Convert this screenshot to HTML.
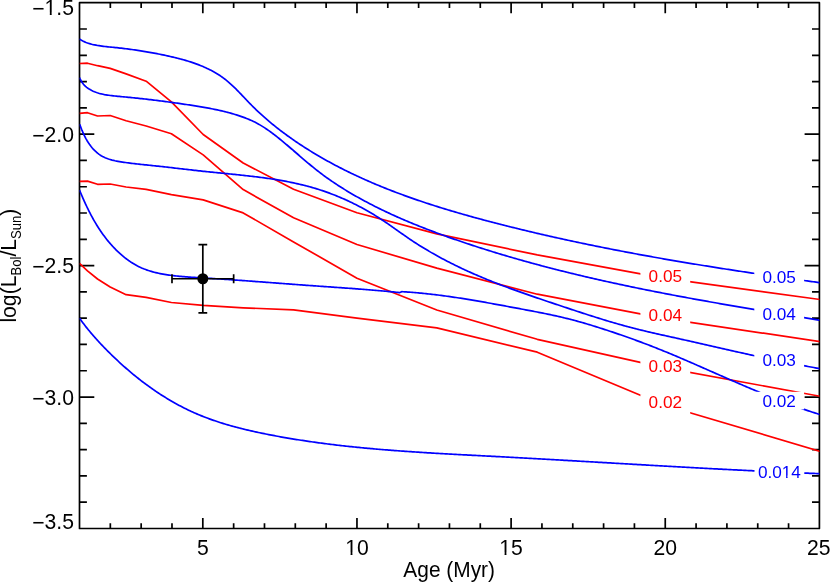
<!DOCTYPE html>
<html><head><meta charset="utf-8"><title>plot</title><style>html,body{margin:0;padding:0;background:#fff}svg{display:block;will-change:transform}text{font-family:"Liberation Sans",sans-serif}</style></head><body>
<svg width="830" height="582" viewBox="0 0 830 582">
<rect width="830" height="582" fill="#fff"/>
<defs><clipPath id="c"><rect x="79.50" y="2.70" width="739.90" height="525.80"/></clipPath></defs>
<path d="M110.33 528.50v-5.20M110.33 2.70v5.20M141.16 528.50v-5.20M141.16 2.70v5.20M171.99 528.50v-5.20M171.99 2.70v5.20M202.82 528.50v-10.50M202.82 2.70v10.50M233.65 528.50v-5.20M233.65 2.70v5.20M264.48 528.50v-5.20M264.48 2.70v5.20M295.30 528.50v-5.20M295.30 2.70v5.20M326.13 528.50v-5.20M326.13 2.70v5.20M356.96 528.50v-10.50M356.96 2.70v10.50M387.79 528.50v-5.20M387.79 2.70v5.20M418.62 528.50v-5.20M418.62 2.70v5.20M449.45 528.50v-5.20M449.45 2.70v5.20M480.28 528.50v-5.20M480.28 2.70v5.20M511.11 528.50v-10.50M511.11 2.70v10.50M541.94 528.50v-5.20M541.94 2.70v5.20M572.77 528.50v-5.20M572.77 2.70v5.20M603.60 528.50v-5.20M603.60 2.70v5.20M634.42 528.50v-5.20M634.42 2.70v5.20M665.25 528.50v-10.50M665.25 2.70v10.50M696.08 528.50v-5.20M696.08 2.70v5.20M726.91 528.50v-5.20M726.91 2.70v5.20M757.74 528.50v-5.20M757.74 2.70v5.20M788.57 528.50v-5.20M788.57 2.70v5.20M79.50 28.99h7.40M819.40 28.99h-7.40M79.50 55.28h7.40M819.40 55.28h-7.40M79.50 81.57h7.40M819.40 81.57h-7.40M79.50 107.86h7.40M819.40 107.86h-7.40M79.50 134.15h14.80M819.40 134.15h-14.80M79.50 160.44h7.40M819.40 160.44h-7.40M79.50 186.73h7.40M819.40 186.73h-7.40M79.50 213.02h7.40M819.40 213.02h-7.40M79.50 239.31h7.40M819.40 239.31h-7.40M79.50 265.60h14.80M819.40 265.60h-14.80M79.50 291.89h7.40M819.40 291.89h-7.40M79.50 318.18h7.40M819.40 318.18h-7.40M79.50 344.47h7.40M819.40 344.47h-7.40M79.50 370.76h7.40M819.40 370.76h-7.40M79.50 397.05h14.80M819.40 397.05h-14.80M79.50 423.34h7.40M819.40 423.34h-7.40M79.50 449.63h7.40M819.40 449.63h-7.40M79.50 475.92h7.40M819.40 475.92h-7.40M79.50 502.21h7.40M819.40 502.21h-7.40" stroke="#000" stroke-width="1.70" fill="none"/>
<rect x="79.50" y="2.70" width="739.90" height="525.80" fill="none" stroke="#000" stroke-width="1.70" stroke-linejoin="round"/>
<g clip-path="url(#c)" fill="none" stroke="#ff0000" stroke-width="1.70" stroke-linejoin="round">
<polyline points="79.50,63.50 87.48,63.20 97.53,65.70 110.18,68.40 126.11,73.90 146.16,81.20 171.40,101.90 203.18,134.50 243.19,163.00 293.56,189.30 356.96,212.80 436.79,233.90 537.28,254.90 663.79,278.20 823.06,299.90"/>
<polyline points="79.50,113.40 87.48,112.70 97.53,116.00 110.18,115.50 126.11,120.70 146.16,126.00 171.40,133.70 203.18,154.90 243.19,189.60 293.56,217.80 356.96,244.50 436.79,268.10 537.28,294.20 663.79,318.30 823.06,342.10"/>
<polyline points="79.50,181.40 87.48,181.10 97.53,184.30 110.18,184.00 126.11,187.00 146.16,189.30 171.40,194.60 203.18,199.90 243.19,212.90 293.56,241.90 356.96,278.20 436.79,310.00 537.28,339.30 663.79,367.70 823.06,396.80"/>
<polyline points="79.50,263.40 87.48,270.80 97.53,279.00 110.18,287.00 126.11,294.70 146.16,297.30 171.40,302.50 203.18,305.40 243.19,307.80 293.56,309.80 356.96,318.20 436.79,327.90 537.28,352.20 663.79,405.00 823.06,452.20"/>
</g>
<rect x="640.40" y="267.40" width="49.80" height="22.00" fill="#fff"/><text transform="translate(665.30 281.82) scale(1 1)" font-size="17.20" fill="#ff0000" text-anchor="middle">0.05</text>
<rect x="640.40" y="307.50" width="49.80" height="22.00" fill="#fff"/><text transform="translate(665.30 321.42) scale(1 1)" font-size="17.20" fill="#ff0000" text-anchor="middle">0.04</text>
<rect x="640.40" y="356.90" width="49.80" height="22.00" fill="#fff"/><text transform="translate(665.30 371.62) scale(1 1)" font-size="17.20" fill="#ff0000" text-anchor="middle">0.03</text>
<rect x="640.40" y="394.20" width="49.80" height="22.00" fill="#fff"/><text transform="translate(665.30 408.22) scale(1 1)" font-size="17.20" fill="#ff0000" text-anchor="middle">0.02</text>
<g clip-path="url(#c)" fill="none" stroke="#0000ff" stroke-width="1.70" stroke-linejoin="round">
<path d="M79.30 38.94L80.63 39.79L81.97 40.57L83.32 41.26L84.69 41.89L86.07 42.46L87.47 42.97L88.87 43.43L90.29 43.85L91.72 44.24L93.15 44.59L94.60 44.91L96.06 45.20L97.52 45.47L98.99 45.71L100.46 45.94L101.94 46.14L103.43 46.33L104.92 46.51L106.41 46.67L107.91 46.83L109.41 46.98L110.91 47.13L112.41 47.27L113.91 47.42L115.41 47.57L116.90 47.72L118.40 47.88L119.90 48.05L121.39 48.21L122.89 48.39L124.38 48.56L125.87 48.75L127.36 48.93L128.85 49.13L130.34 49.32L131.83 49.52L133.32 49.73L134.80 49.94L136.29 50.16L137.77 50.38L139.26 50.60L140.74 50.83L142.22 51.07L143.70 51.31L145.18 51.55L146.66 51.80L148.14 52.05L149.62 52.31L151.09 52.58L152.57 52.85L154.05 53.12L155.52 53.40L157.00 53.69L158.47 53.97L159.94 54.27L161.41 54.57L162.89 54.87L164.36 55.18L165.83 55.50L167.30 55.82L168.77 56.14L170.23 56.47L171.70 56.81L173.17 57.15L174.63 57.50L176.09 57.86L177.55 58.22L179.00 58.60L180.46 58.98L181.90 59.37L183.35 59.77L184.79 60.18L186.23 60.60L187.66 61.03L189.09 61.47L190.51 61.93L191.93 62.39L193.34 62.87L194.74 63.36L196.14 63.86L197.53 64.38L198.92 64.91L200.29 65.45L201.67 66.01L203.03 66.58L204.38 67.17L205.73 67.78L207.06 68.40L208.39 69.03L209.71 69.69L211.02 70.36L212.32 71.05L213.61 71.76L214.89 72.48L216.16 73.23L217.41 73.99L218.66 74.78L219.89 75.58L221.11 76.41L222.32 77.25L223.52 78.12L224.70 79.01L225.88 79.92L227.03 80.85L228.18 81.81L229.31 82.78L230.43 83.78L231.55 84.79L232.65 85.81L233.74 86.85L234.83 87.91L235.91 88.97L236.99 90.05L238.05 91.14L239.12 92.23L240.18 93.33L241.24 94.44L242.29 95.55L243.35 96.66L244.40 97.77L245.46 98.89L246.51 100.00L247.57 101.11L248.63 102.22L249.70 103.32L250.77 104.41L251.84 105.50L252.92 106.58L254.00 107.65L255.09 108.71L256.19 109.77L257.29 110.82L258.39 111.86L259.50 112.89L260.62 113.92L261.74 114.94L262.86 115.95L263.99 116.96L265.12 117.95L266.26 118.95L267.40 119.93L268.55 120.91L269.70 121.88L270.85 122.84L272.01 123.80L273.18 124.75L274.34 125.70L275.52 126.64L276.69 127.57L277.87 128.50L279.05 129.42L280.24 130.33L281.43 131.24L282.63 132.14L283.83 133.04L285.03 133.93L286.23 134.81L287.44 135.69L288.66 136.56L289.87 137.43L291.09 138.29L292.32 139.15L293.54 140.00L294.77 140.85L296.00 141.69L297.24 142.53L298.48 143.36L299.72 144.18L300.96 145.00L302.21 145.82L303.46 146.63L304.71 147.44L305.97 148.24L307.23 149.03L308.49 149.83L309.75 150.61L311.02 151.40L312.29 152.17L313.56 152.95L314.84 153.71L316.12 154.48L317.40 155.24L318.68 155.99L319.97 156.74L321.26 157.48L322.55 158.22L323.84 158.96L325.14 159.69L326.44 160.42L327.74 161.14L329.04 161.86L330.35 162.57L331.66 163.28L332.97 163.99L334.28 164.69L335.60 165.39L336.91 166.08L338.24 166.77L339.56 167.45L340.88 168.13L342.21 168.81L343.54 169.48L344.87 170.15L346.21 170.81L347.54 171.47L348.88 172.12L350.22 172.78L351.57 173.42L352.91 174.07L354.26 174.71L355.61 175.34L356.96 175.97L358.31 176.60L359.67 177.23L361.03 177.85L362.39 178.46L363.75 179.08L365.11 179.68L366.48 180.29L367.84 180.89L369.21 181.49L370.59 182.08L371.96 182.68L373.33 183.26L374.71 183.85L376.09 184.43L377.47 185.00L378.85 185.58L380.23 186.15L381.62 186.71L383.01 187.28L384.40 187.84L385.79 188.39L387.18 188.95L388.57 189.50L389.97 190.04L391.36 190.59L392.76 191.13L394.16 191.66L395.56 192.20L396.97 192.73L398.37 193.26L399.78 193.78L401.19 194.30L402.59 194.82L404.01 195.34L405.42 195.85L406.83 196.36L408.24 196.87L409.66 197.37L411.08 197.87L412.50 198.37L413.91 198.87L415.34 199.36L416.76 199.85L418.18 200.33L419.60 200.82L421.03 201.30L422.46 201.78L423.89 202.26L425.31 202.73L426.74 203.20L428.18 203.67L429.61 204.14L431.04 204.60L432.47 205.06L433.91 205.52L435.35 205.97L436.78 206.43L438.22 206.88L439.66 207.33L441.10 207.77L442.54 208.22L443.98 208.66L445.42 209.10L446.87 209.54L448.31 209.97L449.76 210.41L451.20 210.84L452.65 211.27L454.09 211.69L455.54 212.12L456.99 212.54L458.44 212.96L459.89 213.38L461.34 213.80L462.79 214.21L464.24 214.62L465.69 215.03L467.14 215.44L468.60 215.85L470.05 216.26L471.50 216.66L472.96 217.06L474.41 217.46L475.87 217.86L477.32 218.26L478.78 218.65L480.24 219.04L481.69 219.43L483.15 219.82L484.61 220.21L486.06 220.60L487.52 220.98L488.98 221.37L490.44 221.75L491.90 222.13L493.35 222.51L494.81 222.89L496.27 223.27L497.73 223.64L499.19 224.02L500.65 224.39L502.11 224.76L503.57 225.13L505.03 225.50L506.49 225.87L507.95 226.23L509.41 226.60L510.87 226.96L512.33 227.32L513.79 227.69L515.24 228.04L516.71 228.40L518.17 228.76L519.63 229.12L521.09 229.47L522.55 229.83L524.01 230.18L525.47 230.53L526.93 230.88L528.39 231.23L529.85 231.58L531.31 231.92L532.77 232.27L534.23 232.61L535.69 232.96L537.16 233.30L538.62 233.64L540.08 233.98L541.54 234.32L543.00 234.65L544.47 234.99L545.93 235.32L547.39 235.66L548.85 235.99L550.31 236.32L551.78 236.65L553.24 236.98L554.70 237.31L556.17 237.63L557.63 237.96L559.09 238.28L560.55 238.61L562.02 238.93L563.48 239.25L564.95 239.57L566.41 239.89L567.87 240.21L569.34 240.53L570.80 240.84L572.27 241.16L573.73 241.47L575.19 241.78L576.66 242.09L578.12 242.40L579.59 242.71L581.05 243.02L582.52 243.33L583.98 243.64L585.45 243.94L586.91 244.25L588.38 244.55L589.85 244.85L591.31 245.15L592.78 245.45L594.24 245.75L595.71 246.05L597.18 246.35L598.64 246.64L600.11 246.94L601.58 247.23L603.04 247.53L604.51 247.82L605.98 248.11L607.44 248.40L608.91 248.69L610.38 248.98L611.85 249.27L613.32 249.56L614.78 249.84L616.25 250.13L617.72 250.41L619.19 250.69L620.66 250.98L622.13 251.26L623.60 251.54L625.06 251.82L626.53 252.10L628.00 252.37L629.47 252.65L630.94 252.93L632.41 253.20L633.88 253.48L635.35 253.75L636.82 254.02L638.29 254.29L639.76 254.57L641.23 254.84L642.71 255.10L644.18 255.37L645.65 255.64L647.12 255.91L648.59 256.17L650.06 256.44L651.53 256.70L653.01 256.97L654.48 257.23L655.95 257.49L657.42 257.75L658.90 258.01L660.37 258.27L661.84 258.53L663.32 258.79L664.79 259.05L666.26 259.30L667.74 259.56L669.21 259.81L670.68 260.07L672.16 260.32L673.63 260.57L675.11 260.83L676.58 261.08L678.06 261.33L679.53 261.58L681.01 261.83L682.48 262.08L683.96 262.32L685.44 262.57L686.91 262.82L688.39 263.06L689.86 263.31L691.34 263.55L692.82 263.80L694.29 264.04L695.77 264.28L697.25 264.52L698.73 264.76L700.20 265.00L701.68 265.24L703.16 265.48L704.64 265.72L706.12 265.96L707.60 266.20L709.07 266.43L710.55 266.67L712.03 266.91L713.51 267.14L714.99 267.37L716.47 267.61L717.95 267.84L719.43 268.07L720.91 268.31L722.39 268.54L723.87 268.77L725.35 269.00L726.84 269.23L728.32 269.46L729.80 269.68L731.28 269.91L732.76 270.14L734.24 270.37L735.73 270.59L737.21 270.82L738.69 271.04L740.18 271.27L741.66 271.49L743.14 271.72L744.63 271.94L746.11 272.16L747.59 272.39L749.08 272.61L750.56 272.83L752.05 273.05L753.53 273.27L755.02 273.49L756.50 273.71L757.99 273.93L759.47 274.15L760.96 274.36L762.45 274.58L763.93 274.80L765.42 275.02L766.91 275.23L768.39 275.45L769.88 275.66L771.37 275.88L772.86 276.09L774.34 276.31L775.83 276.52L777.32 276.73L778.81 276.95L780.30 277.16L781.79 277.37L783.28 277.58L784.77 277.80L786.26 278.01L787.75 278.22L789.24 278.43L790.73 278.64L792.22 278.85L793.71 279.06L795.20 279.27L796.69 279.48L798.18 279.68L799.68 279.89L801.17 280.10L802.66 280.31L804.15 280.51L805.65 280.72L807.14 280.93L808.63 281.13L810.13 281.34L811.62 281.55L813.11 281.75L814.61 281.96L816.10 282.16L817.60 282.37L819.09 282.57L820.59 282.77L822.08 282.98L823.08 283.11"/>
<path d="M79.56 77.68L80.20 79.12L80.91 80.50L81.69 81.80L82.54 83.04L83.47 84.22L84.48 85.32L85.55 86.36L86.70 87.33L87.91 88.24L89.17 89.08L90.47 89.85L91.80 90.56L93.14 91.20L94.51 91.79L95.88 92.31L97.28 92.79L98.68 93.21L100.10 93.60L101.54 93.95L102.98 94.26L104.43 94.55L105.90 94.81L107.37 95.05L108.85 95.28L110.34 95.48L111.83 95.67L113.33 95.85L114.83 96.02L116.34 96.17L117.85 96.32L119.36 96.47L120.87 96.60L122.38 96.74L123.89 96.88L125.40 97.02L126.91 97.16L128.41 97.30L129.92 97.45L131.42 97.60L132.92 97.75L134.42 97.90L135.91 98.05L137.41 98.21L138.90 98.37L140.40 98.53L141.89 98.69L143.38 98.86L144.87 99.02L146.35 99.19L147.84 99.36L149.32 99.54L150.81 99.71L152.29 99.89L153.77 100.07L155.26 100.25L156.74 100.43L158.22 100.62L159.70 100.81L161.18 100.99L162.65 101.19L164.13 101.38L165.61 101.57L167.09 101.77L168.56 101.97L170.04 102.17L171.52 102.37L173.00 102.58L174.47 102.79L175.95 102.99L177.43 103.21L178.90 103.42L180.38 103.63L181.86 103.85L183.33 104.07L184.81 104.29L186.29 104.51L187.77 104.73L189.25 104.95L190.73 105.18L192.21 105.41L193.69 105.64L195.17 105.87L196.66 106.11L198.14 106.35L199.62 106.59L201.10 106.84L202.59 107.09L204.07 107.35L205.55 107.61L207.03 107.88L208.52 108.15L210.00 108.43L211.48 108.72L212.96 109.01L214.44 109.31L215.92 109.62L217.39 109.93L218.87 110.25L220.35 110.59L221.82 110.93L223.29 111.28L224.76 111.64L226.23 112.01L227.70 112.39L229.17 112.78L230.64 113.18L232.10 113.60L233.56 114.02L235.02 114.46L236.48 114.91L237.93 115.38L239.38 115.85L240.83 116.35L242.28 116.85L243.72 117.37L245.15 117.90L246.57 118.45L247.98 119.02L249.37 119.60L250.75 120.20L252.12 120.82L253.46 121.45L254.79 122.10L256.09 122.77L257.38 123.45L258.65 124.16L259.91 124.88L261.15 125.61L262.38 126.36L263.59 127.13L264.80 127.91L265.99 128.70L267.18 129.51L268.36 130.33L269.53 131.17L270.70 132.02L271.87 132.88L273.03 133.75L274.19 134.64L275.35 135.54L276.51 136.45L277.67 137.36L278.84 138.29L280.00 139.23L281.16 140.17L282.32 141.13L283.48 142.09L284.64 143.06L285.80 144.03L286.96 145.01L288.13 146.00L289.29 146.99L290.45 147.98L291.62 148.98L292.78 149.98L293.95 150.98L295.11 151.99L296.28 153.00L297.45 154.01L298.62 155.01L299.79 156.02L300.96 157.03L302.13 158.04L303.30 159.04L304.48 160.04L305.65 161.04L306.83 162.04L308.01 163.03L309.19 164.02L310.37 165.00L311.56 165.97L312.74 166.94L313.93 167.91L315.12 168.86L316.31 169.81L317.50 170.75L318.70 171.68L319.90 172.60L321.10 173.51L322.30 174.41L323.50 175.31L324.71 176.19L325.92 177.07L327.13 177.94L328.34 178.80L329.56 179.65L330.78 180.50L332.00 181.34L333.23 182.17L334.46 182.99L335.69 183.81L336.92 184.62L338.16 185.43L339.40 186.23L340.64 187.02L341.89 187.81L343.14 188.59L344.39 189.36L345.65 190.14L346.91 190.90L348.17 191.66L349.44 192.42L350.71 193.17L351.98 193.92L353.26 194.67L354.54 195.40L355.83 196.14L357.12 196.87L358.41 197.59L359.70 198.32L361.00 199.03L362.30 199.75L363.61 200.45L364.91 201.16L366.22 201.86L367.54 202.55L368.85 203.25L370.17 203.93L371.49 204.62L372.82 205.30L374.15 205.97L375.48 206.64L376.81 207.31L378.15 207.97L379.48 208.63L380.83 209.29L382.17 209.94L383.52 210.59L384.86 211.23L386.22 211.87L387.57 212.51L388.93 213.14L390.28 213.77L391.65 214.40L393.01 215.02L394.37 215.64L395.74 216.25L397.11 216.86L398.48 217.47L399.86 218.08L401.23 218.68L402.61 219.28L403.99 219.87L405.37 220.46L406.76 221.05L408.14 221.64L409.53 222.22L410.92 222.80L412.31 223.37L413.70 223.94L415.10 224.51L416.50 225.08L417.89 225.64L419.29 226.20L420.69 226.76L422.10 227.31L423.50 227.86L424.90 228.41L426.31 228.96L427.72 229.50L429.13 230.04L430.54 230.58L431.95 231.11L433.36 231.65L434.78 232.17L436.19 232.70L437.61 233.23L439.02 233.75L440.44 234.27L441.86 234.78L443.28 235.30L444.70 235.81L446.12 236.32L447.55 236.83L448.97 237.33L450.39 237.83L451.82 238.33L453.24 238.83L454.67 239.33L456.09 239.82L457.52 240.31L458.95 240.80L460.37 241.29L461.80 241.77L463.23 242.26L464.66 242.74L466.09 243.22L467.52 243.69L468.95 244.17L470.38 244.64L471.81 245.11L473.24 245.58L474.67 246.05L476.11 246.52L477.54 246.98L478.97 247.44L480.40 247.90L481.84 248.36L483.27 248.81L484.71 249.27L486.14 249.72L487.58 250.17L489.01 250.62L490.45 251.06L491.88 251.51L493.32 251.95L494.76 252.39L496.19 252.83L497.63 253.27L499.07 253.70L500.51 254.14L501.95 254.57L503.39 255.00L504.83 255.42L506.27 255.85L507.71 256.28L509.15 256.70L510.59 257.12L512.03 257.54L513.47 257.96L514.91 258.37L516.36 258.79L517.80 259.20L519.24 259.61L520.69 260.02L522.13 260.42L523.57 260.83L525.02 261.23L526.46 261.64L527.91 262.04L529.36 262.44L530.80 262.83L532.25 263.23L533.69 263.62L535.14 264.02L536.59 264.41L538.04 264.80L539.48 265.18L540.93 265.57L542.38 265.95L543.83 266.34L545.28 266.72L546.73 267.10L548.18 267.48L549.63 267.85L551.08 268.23L552.53 268.60L553.98 268.98L555.43 269.35L556.88 269.72L558.34 270.08L559.79 270.45L561.24 270.82L562.69 271.18L564.15 271.54L565.60 271.90L567.06 272.26L568.51 272.62L569.96 272.98L571.42 273.33L572.87 273.69L574.33 274.04L575.78 274.39L577.24 274.74L578.70 275.09L580.15 275.43L581.61 275.78L583.07 276.12L584.53 276.47L585.98 276.81L587.44 277.15L588.90 277.49L590.36 277.83L591.82 278.16L593.28 278.50L594.73 278.83L596.19 279.16L597.65 279.50L599.11 279.83L600.57 280.15L602.04 280.48L603.50 280.81L604.96 281.13L606.42 281.46L607.88 281.78L609.34 282.10L610.81 282.42L612.27 282.74L613.73 283.06L615.19 283.38L616.66 283.70L618.12 284.01L619.58 284.33L621.05 284.64L622.51 284.95L623.98 285.26L625.44 285.57L626.91 285.88L628.37 286.19L629.84 286.49L631.30 286.80L632.77 287.10L634.24 287.41L635.70 287.71L637.17 288.01L638.64 288.31L640.10 288.61L641.57 288.91L643.04 289.21L644.50 289.50L645.97 289.80L647.44 290.09L648.91 290.39L650.38 290.68L651.85 290.97L653.32 291.26L654.79 291.55L656.25 291.84L657.72 292.13L659.19 292.41L660.66 292.70L662.13 292.99L663.61 293.27L665.08 293.55L666.55 293.84L668.02 294.12L669.49 294.40L670.96 294.68L672.43 294.96L673.90 295.24L675.38 295.52L676.85 295.80L678.32 296.07L679.79 296.35L681.27 296.62L682.74 296.90L684.21 297.17L685.69 297.44L687.16 297.72L688.63 297.99L690.11 298.26L691.58 298.53L693.06 298.80L694.53 299.07L696.01 299.33L697.48 299.60L698.95 299.87L700.43 300.13L701.91 300.40L703.38 300.66L704.86 300.93L706.33 301.19L707.81 301.45L709.28 301.72L710.76 301.98L712.24 302.24L713.71 302.50L715.19 302.76L716.67 303.02L718.14 303.28L719.62 303.54L721.10 303.80L722.58 304.05L724.05 304.31L725.53 304.57L727.01 304.82L728.49 305.08L729.97 305.33L731.44 305.59L732.92 305.84L734.40 306.10L735.88 306.35L737.36 306.60L738.84 306.85L740.32 307.11L741.80 307.36L743.27 307.61L744.75 307.86L746.23 308.11L747.71 308.36L749.19 308.61L750.67 308.86L752.15 309.11L753.63 309.36L755.11 309.60L756.59 309.85L758.07 310.10L759.56 310.35L761.04 310.59L762.52 310.84L764.00 311.09L765.48 311.33L766.96 311.58L768.44 311.83L769.92 312.07L771.40 312.32L772.88 312.56L774.37 312.81L775.85 313.05L777.33 313.30L778.81 313.54L780.29 313.78L781.78 314.03L783.26 314.27L784.74 314.52L786.22 314.76L787.70 315.00L789.19 315.24L790.67 315.49L792.15 315.73L793.64 315.97L795.12 316.22L796.60 316.46L798.08 316.70L799.57 316.94L801.05 317.19L802.53 317.43L804.02 317.67L805.50 317.91L806.98 318.16L808.47 318.40L809.95 318.64L811.43 318.88L812.92 319.13L814.40 319.37L815.88 319.61L817.37 319.85L818.85 320.09L820.33 320.34L821.82 320.58L823.02 320.78"/>
<path d="M79.68 124.17L80.15 125.49L80.65 126.83L81.17 128.19L81.70 129.55L82.27 130.92L82.86 132.29L83.47 133.67L84.11 135.04L84.78 136.41L85.48 137.77L86.21 139.12L86.97 140.45L87.77 141.77L88.60 143.06L89.46 144.33L90.36 145.57L91.29 146.78L92.26 147.95L93.27 149.09L94.31 150.18L95.38 151.23L96.48 152.23L97.62 153.18L98.80 154.08L100.00 154.92L101.24 155.70L102.52 156.42L103.82 157.08L105.15 157.69L106.50 158.26L107.88 158.77L109.28 159.25L110.69 159.68L112.13 160.08L113.58 160.44L115.04 160.78L116.52 161.08L118.00 161.36L119.49 161.63L120.99 161.87L122.49 162.10L123.99 162.32L125.49 162.53L126.98 162.74L128.48 162.94L129.97 163.13L131.47 163.32L132.96 163.50L134.46 163.67L135.95 163.84L137.44 164.01L138.93 164.18L140.42 164.34L141.91 164.50L143.40 164.65L144.89 164.81L146.38 164.96L147.87 165.11L149.36 165.27L150.85 165.42L152.34 165.57L153.83 165.73L155.32 165.88L156.81 166.04L158.31 166.20L159.80 166.36L161.29 166.52L162.79 166.69L164.28 166.85L165.78 167.02L167.27 167.19L168.77 167.36L170.27 167.53L171.76 167.70L173.26 167.87L174.76 168.04L176.26 168.22L177.75 168.39L179.25 168.56L180.75 168.74L182.25 168.91L183.75 169.09L185.25 169.26L186.75 169.43L188.25 169.61L189.75 169.78L191.25 169.95L192.75 170.12L194.25 170.29L195.75 170.46L197.25 170.62L198.75 170.79L200.25 170.95L201.75 171.12L203.25 171.28L204.75 171.44L206.25 171.59L207.76 171.75L209.25 171.90L210.75 172.06L212.25 172.21L213.75 172.36L215.25 172.51L216.75 172.66L218.25 172.81L219.75 172.96L221.25 173.11L222.74 173.26L224.24 173.41L225.74 173.56L227.23 173.70L228.73 173.85L230.22 174.00L231.72 174.15L233.21 174.31L234.71 174.46L236.20 174.61L237.69 174.77L239.18 174.92L240.67 175.08L242.16 175.24L243.65 175.40L245.14 175.56L246.63 175.73L248.12 175.89L249.61 176.06L251.09 176.23L252.58 176.41L254.06 176.59L255.54 176.77L257.03 176.95L258.51 177.13L259.99 177.32L261.47 177.52L262.95 177.71L264.42 177.91L265.90 178.11L267.38 178.32L268.85 178.53L270.32 178.75L271.80 178.97L273.27 179.20L274.74 179.43L276.21 179.66L277.67 179.90L279.14 180.14L280.60 180.39L282.07 180.65L283.53 180.91L284.99 181.18L286.45 181.45L287.91 181.73L289.37 182.02L290.82 182.31L292.28 182.61L293.73 182.91L295.18 183.23L296.63 183.55L298.08 183.87L299.52 184.21L300.97 184.55L302.41 184.90L303.85 185.26L305.29 185.62L306.73 185.99L308.17 186.37L309.60 186.76L311.03 187.16L312.46 187.57L313.89 187.99L315.32 188.41L316.75 188.85L318.17 189.29L319.59 189.74L321.01 190.20L322.43 190.67L323.85 191.15L325.26 191.64L326.67 192.14L328.08 192.65L329.48 193.16L330.89 193.69L332.29 194.22L333.69 194.76L335.08 195.31L336.48 195.87L337.87 196.44L339.25 197.01L340.64 197.60L342.02 198.19L343.40 198.79L344.77 199.40L346.15 200.02L347.52 200.64L348.88 201.28L350.24 201.92L351.60 202.57L352.96 203.23L354.31 203.90L355.66 204.57L357.00 205.25L358.34 205.94L359.68 206.64L361.01 207.35L362.34 208.06L363.67 208.79L364.99 209.52L366.31 210.25L367.62 211.00L368.93 211.75L370.23 212.51L371.53 213.28L372.83 214.06L374.12 214.84L375.40 215.63L376.69 216.43L377.96 217.23L379.23 218.05L380.50 218.87L381.77 219.69L383.02 220.53L384.28 221.37L385.53 222.21L386.78 223.06L388.02 223.92L389.26 224.77L390.50 225.64L391.74 226.50L392.97 227.37L394.20 228.23L395.44 229.10L396.67 229.97L397.90 230.84L399.13 231.71L400.36 232.58L401.59 233.45L402.82 234.31L404.05 235.18L405.29 236.03L406.53 236.89L407.76 237.74L409.00 238.59L410.25 239.43L411.50 240.27L412.74 241.09L414.00 241.92L415.25 242.74L416.51 243.55L417.77 244.36L419.04 245.16L420.31 245.95L421.58 246.74L422.85 247.52L424.13 248.30L425.41 249.08L426.69 249.84L427.98 250.60L429.27 251.36L430.56 252.11L431.85 252.86L433.15 253.60L434.45 254.33L435.75 255.07L437.05 255.79L438.36 256.51L439.67 257.23L440.98 257.94L442.30 258.64L443.61 259.34L444.93 260.04L446.26 260.73L447.58 261.41L448.91 262.10L450.24 262.77L451.57 263.45L452.90 264.11L454.24 264.78L455.58 265.43L456.92 266.09L458.26 266.74L459.61 267.38L460.95 268.02L462.30 268.66L463.65 269.29L465.01 269.92L466.36 270.54L467.72 271.16L469.08 271.78L470.44 272.39L471.81 273.00L473.17 273.60L474.54 274.20L475.91 274.80L477.28 275.39L478.65 275.98L480.03 276.56L481.40 277.14L482.78 277.72L484.16 278.29L485.54 278.87L486.93 279.43L488.31 280.00L489.70 280.56L491.09 281.11L492.48 281.67L493.87 282.22L495.26 282.76L496.65 283.31L498.05 283.85L499.45 284.39L500.84 284.92L502.24 285.46L503.64 285.99L505.05 286.51L506.45 287.04L507.86 287.56L509.26 288.08L510.67 288.60L512.08 289.12L513.49 289.63L514.90 290.14L516.31 290.65L517.72 291.16L519.13 291.66L520.55 292.16L521.96 292.67L523.38 293.17L524.80 293.66L526.22 294.16L527.64 294.66L529.06 295.15L530.48 295.64L531.90 296.13L533.32 296.62L534.75 297.11L536.17 297.60L537.59 298.08L539.02 298.57L540.45 299.05L541.87 299.53L543.30 300.02L544.73 300.50L546.16 300.98L547.58 301.46L549.01 301.94L550.44 302.42L551.87 302.89L553.30 303.37L554.73 303.85L556.17 304.33L557.60 304.80L559.03 305.28L560.46 305.76L561.89 306.24L563.33 306.71L564.76 307.19L566.19 307.67L567.62 308.14L569.06 308.62L570.49 309.09L571.93 309.57L573.36 310.04L574.79 310.52L576.23 310.99L577.66 311.46L579.10 311.93L580.53 312.40L581.97 312.87L583.41 313.33L584.84 313.80L586.28 314.26L587.72 314.73L589.15 315.19L590.59 315.65L592.03 316.11L593.47 316.56L594.90 317.02L596.34 317.47L597.78 317.92L599.22 318.37L600.66 318.81L602.10 319.26L603.54 319.70L604.98 320.14L606.42 320.57L607.86 321.01L609.30 321.44L610.74 321.87L612.18 322.29L613.62 322.71L615.06 323.13L616.50 323.55L617.95 323.96L619.39 324.37L620.83 324.78L622.27 325.18L623.72 325.58L625.16 325.98L626.60 326.37L628.05 326.76L629.49 327.15L630.94 327.53L632.38 327.91L633.83 328.28L635.27 328.65L636.72 329.02L638.16 329.38L639.61 329.74L641.06 330.09L642.50 330.44L643.95 330.79L645.40 331.14L646.84 331.48L648.29 331.83L649.74 332.16L651.19 332.50L652.64 332.83L654.09 333.17L655.54 333.50L656.98 333.83L658.43 334.15L659.88 334.48L661.33 334.81L662.79 335.13L664.24 335.45L665.69 335.78L667.14 336.10L668.59 336.42L670.04 336.74L671.49 337.06L672.95 337.38L674.40 337.70L675.85 338.02L677.31 338.35L678.76 338.67L680.21 338.99L681.67 339.32L683.12 339.64L684.58 339.97L686.03 340.29L687.49 340.62L688.94 340.95L690.40 341.28L691.86 341.60L693.31 341.93L694.77 342.26L696.23 342.59L697.68 342.92L699.14 343.26L700.60 343.59L702.06 343.92L703.52 344.25L704.98 344.58L706.44 344.91L707.90 345.25L709.36 345.58L710.82 345.91L712.28 346.24L713.74 346.58L715.20 346.91L716.66 347.24L718.12 347.58L719.58 347.91L721.05 348.24L722.51 348.57L723.97 348.91L725.43 349.24L726.90 349.57L728.36 349.90L729.83 350.23L731.29 350.56L732.75 350.89L734.22 351.22L735.69 351.55L737.15 351.88L738.62 352.21L740.08 352.54L741.55 352.87L743.02 353.19L744.48 353.52L745.95 353.84L747.42 354.17L748.89 354.49L750.36 354.82L751.82 355.14L753.29 355.46L754.76 355.78L756.23 356.10L757.70 356.42L759.17 356.74L760.64 357.06L762.12 357.37L763.59 357.69L765.06 358.00L766.53 358.31L768.00 358.63L769.48 358.94L770.95 359.25L772.42 359.55L773.90 359.86L775.37 360.17L776.84 360.47L778.32 360.77L779.79 361.07L781.27 361.37L782.74 361.67L784.22 361.97L785.70 362.26L787.17 362.56L788.65 362.85L790.13 363.14L791.60 363.43L793.08 363.71L794.56 364.00L796.04 364.28L797.52 364.56L799.00 364.84L800.48 365.12L801.96 365.40L803.44 365.67L804.92 365.94L806.40 366.21L807.88 366.48L809.36 366.75L810.84 367.01L812.33 367.27L813.81 367.53L815.29 367.79L816.77 368.04L818.26 368.30L819.74 368.55L821.23 368.80L822.71 369.04L823.09 369.10"/>
<path d="M79.48 190.01L80.05 191.40L80.63 192.78L81.21 194.16L81.79 195.54L82.39 196.92L82.99 198.30L83.59 199.67L84.21 201.04L84.83 202.41L85.46 203.77L86.09 205.13L86.73 206.49L87.38 207.84L88.04 209.19L88.71 210.53L89.39 211.87L90.07 213.21L90.77 214.54L91.47 215.86L92.18 217.18L92.91 218.49L93.64 219.80L94.39 221.10L95.14 222.39L95.91 223.68L96.68 224.96L97.47 226.23L98.27 227.49L99.08 228.75L99.91 230.00L100.74 231.24L101.59 232.47L102.45 233.70L103.33 234.91L104.21 236.12L105.11 237.31L106.03 238.50L106.96 239.68L107.90 240.84L108.86 242.00L109.83 243.14L110.82 244.28L111.82 245.40L112.84 246.52L113.87 247.62L114.92 248.71L115.98 249.78L117.06 250.84L118.15 251.89L119.26 252.92L120.38 253.93L121.52 254.93L122.67 255.90L123.83 256.86L125.01 257.80L126.21 258.72L127.41 259.62L128.63 260.50L129.87 261.35L131.12 262.19L132.38 262.99L133.65 263.77L134.94 264.53L136.24 265.26L137.55 265.97L138.88 266.64L140.21 267.29L141.57 267.91L142.93 268.49L144.30 269.05L145.69 269.58L147.09 270.08L148.49 270.56L149.91 271.01L151.34 271.43L152.77 271.83L154.21 272.21L155.66 272.58L157.12 272.92L158.58 273.24L160.05 273.55L161.53 273.84L163.01 274.11L164.49 274.37L165.98 274.62L167.47 274.85L168.97 275.07L170.47 275.28L171.97 275.48L173.48 275.67L174.99 275.84L176.50 276.01L178.02 276.17L179.54 276.31L181.06 276.45L182.58 276.59L184.10 276.71L185.62 276.83L187.14 276.95L188.67 277.06L190.19 277.16L191.72 277.26L193.24 277.36L194.77 277.45L196.29 277.54L197.81 277.63L199.34 277.72L200.86 277.81L202.37 277.90L203.89 277.99L205.41 278.07L206.92 278.17L208.43 278.26L209.94 278.35L211.44 278.44L212.95 278.54L214.45 278.63L215.95 278.73L217.45 278.82L218.95 278.92L220.45 279.02L221.94 279.12L223.44 279.22L224.93 279.32L226.42 279.42L227.91 279.52L229.40 279.62L230.89 279.72L232.37 279.82L233.86 279.93L235.34 280.03L236.83 280.13L238.31 280.24L239.79 280.34L241.27 280.45L242.75 280.56L244.23 280.66L245.71 280.77L247.18 280.88L248.66 280.99L250.14 281.09L251.61 281.20L253.09 281.31L254.56 281.42L256.04 281.53L257.51 281.64L258.98 281.75L260.46 281.86L261.93 281.97L263.40 282.08L264.88 282.19L266.35 282.30L267.82 282.41L269.30 282.52L270.77 282.63L272.25 282.74L273.72 282.86L275.19 282.97L276.67 283.08L278.14 283.19L279.62 283.30L281.10 283.41L282.57 283.52L284.05 283.63L285.53 283.75L287.00 283.86L288.48 283.97L289.96 284.08L291.44 284.19L292.93 284.30L294.41 284.41L295.89 284.52L297.38 284.63L298.86 284.74L300.35 284.84L301.84 284.95L303.33 285.06L304.82 285.17L306.31 285.28L307.80 285.38L309.30 285.49L310.79 285.60L312.29 285.70L313.79 285.81L315.29 285.92L316.79 286.02L318.29 286.13L319.79 286.23L321.30 286.34L322.80 286.44L324.31 286.55L325.81 286.65L327.32 286.76L328.83 286.86L330.33 286.97L331.84 287.07L333.35 287.18L334.86 287.28L336.37 287.39L337.88 287.49L339.39 287.60L340.90 287.71L342.41 287.82L343.93 287.92L345.44 288.03L346.95 288.14L348.46 288.25L349.97 288.36L351.48 288.47L352.99 288.58L354.50 288.69L356.01 288.81L357.52 288.92L359.02 289.03L360.53 289.15L362.04 289.26L363.55 289.38L365.05 289.50L366.56 289.62L368.06 289.74L369.56 289.86L371.06 289.98L372.56 290.10L374.06 290.23L375.56 290.35L377.06 290.48L378.56 290.61L380.05 290.74L381.54 290.87L383.03 291.00L384.52 291.14L386.01 291.27L387.50 291.41L388.99 291.55L390.47 291.68L391.95 291.83L393.43 291.97L394.91 292.11L396.38 292.26L397.86 292.41L399.33 292.56L399.81 292.61L401.71 291.67L403.23 291.75L404.74 291.85L406.26 291.94L407.78 292.05L409.30 292.16L410.82 292.27L412.33 292.38L413.85 292.51L415.36 292.63L416.87 292.76L418.39 292.90L419.90 293.04L421.41 293.18L422.92 293.33L424.43 293.48L425.94 293.64L427.45 293.80L428.96 293.97L430.47 294.13L431.98 294.31L433.48 294.48L434.99 294.66L436.50 294.85L438.00 295.03L439.50 295.22L441.01 295.42L442.51 295.61L444.01 295.81L445.51 296.02L447.01 296.22L448.51 296.43L450.01 296.64L451.51 296.86L453.01 297.08L454.50 297.30L456.00 297.52L457.50 297.75L458.99 297.98L460.49 298.21L461.98 298.44L463.47 298.68L464.96 298.92L466.46 299.16L467.95 299.40L469.44 299.65L470.93 299.89L472.42 300.14L473.90 300.39L475.39 300.64L476.88 300.90L478.36 301.15L479.85 301.41L481.33 301.67L482.82 301.93L484.30 302.19L485.78 302.46L487.27 302.72L488.75 302.99L490.23 303.25L491.71 303.52L493.19 303.79L494.66 304.06L496.14 304.33L497.62 304.60L499.10 304.87L500.57 305.14L502.05 305.42L503.52 305.69L504.99 305.96L506.47 306.24L507.94 306.51L509.41 306.79L510.88 307.06L512.35 307.34L513.82 307.61L515.29 307.89L516.76 308.16L518.22 308.44L519.69 308.71L521.15 308.98L522.62 309.26L524.08 309.53L525.55 309.81L527.01 310.08L528.47 310.36L529.93 310.64L531.39 310.91L532.85 311.19L534.31 311.47L535.77 311.75L537.23 312.04L538.69 312.32L540.14 312.61L541.60 312.90L543.05 313.19L544.51 313.48L545.96 313.78L547.42 314.08L548.87 314.38L550.32 314.69L551.77 315.00L553.22 315.31L554.67 315.63L556.12 315.95L557.56 316.27L559.01 316.60L560.46 316.93L561.90 317.27L563.35 317.61L564.79 317.96L566.24 318.31L567.68 318.67L569.12 319.03L570.56 319.40L572.00 319.77L573.44 320.15L574.88 320.53L576.32 320.92L577.76 321.31L579.19 321.71L580.63 322.12L582.07 322.52L583.50 322.94L584.93 323.35L586.37 323.77L587.80 324.20L589.23 324.63L590.66 325.06L592.09 325.50L593.52 325.94L594.95 326.38L596.38 326.83L597.81 327.28L599.23 327.73L600.66 328.19L602.08 328.64L603.51 329.11L604.93 329.57L606.35 330.03L607.78 330.50L609.20 330.97L610.62 331.45L612.04 331.92L613.46 332.40L614.87 332.88L616.29 333.36L617.71 333.84L619.13 334.33L620.54 334.81L621.96 335.30L623.37 335.80L624.78 336.29L626.20 336.79L627.61 337.29L629.02 337.79L630.43 338.29L631.84 338.80L633.25 339.31L634.66 339.82L636.07 340.33L637.48 340.85L638.88 341.37L640.29 341.89L641.70 342.41L643.10 342.94L644.51 343.47L645.91 344.00L647.32 344.54L648.72 345.08L650.12 345.62L651.52 346.16L652.93 346.70L654.33 347.25L655.73 347.80L657.13 348.36L658.53 348.92L659.93 349.48L661.33 350.04L662.72 350.60L664.12 351.17L665.52 351.74L666.92 352.32L668.31 352.89L669.71 353.47L671.11 354.05L672.50 354.64L673.90 355.22L675.29 355.81L676.68 356.40L678.08 356.99L679.47 357.58L680.86 358.18L682.26 358.77L683.65 359.37L685.04 359.97L686.43 360.57L687.82 361.17L689.21 361.77L690.61 362.38L692.00 362.98L693.39 363.59L694.78 364.20L696.16 364.81L697.55 365.41L698.94 366.02L700.33 366.63L701.72 367.24L703.11 367.85L704.50 368.46L705.88 369.08L707.27 369.69L708.66 370.30L710.04 370.91L711.43 371.52L712.82 372.13L714.20 372.74L715.59 373.35L716.98 373.96L718.36 374.57L719.75 375.18L721.13 375.79L722.52 376.40L723.90 377.01L725.29 377.62L726.67 378.22L728.06 378.83L729.44 379.43L730.83 380.04L732.21 380.64L733.59 381.24L734.98 381.84L736.36 382.44L737.75 383.04L739.13 383.64L740.52 384.24L741.90 384.83L743.28 385.43L744.67 386.02L746.05 386.61L747.43 387.20L748.82 387.79L750.20 388.38L751.59 388.96L752.97 389.55L754.35 390.13L755.74 390.71L757.12 391.28L758.51 391.86L759.89 392.43L761.27 393.00L762.66 393.57L764.04 394.14L765.43 394.71L766.81 395.27L768.19 395.83L769.58 396.39L770.96 396.94L772.35 397.50L773.73 398.05L775.12 398.60L776.50 399.14L777.89 399.69L779.27 400.23L780.66 400.76L782.05 401.30L783.43 401.83L784.82 402.36L786.20 402.88L787.59 403.40L788.98 403.92L790.36 404.44L791.75 404.95L793.14 405.46L794.53 405.97L795.91 406.47L797.30 406.97L798.69 407.47L800.08 407.96L801.47 408.45L802.86 408.93L804.25 409.41L805.64 409.89L807.03 410.36L808.42 410.83L809.81 411.30L811.20 411.76L812.59 412.22L813.98 412.67L815.37 413.12L816.77 413.56L818.16 414.00L819.55 414.44L820.95 414.87L822.34 415.30L822.57 415.37"/>
<path d="M79.49 318.12L80.34 319.32L81.21 320.52L82.08 321.71L82.96 322.90L83.86 324.08L84.76 325.26L85.67 326.43L86.60 327.60L87.53 328.77L88.47 329.93L89.42 331.08L90.37 332.23L91.34 333.38L92.31 334.52L93.30 335.66L94.28 336.79L95.28 337.92L96.28 339.04L97.29 340.16L98.31 341.27L99.33 342.38L100.36 343.48L101.39 344.58L102.43 345.68L103.48 346.77L104.53 347.85L105.58 348.93L106.64 350.01L107.71 351.08L108.77 352.14L109.84 353.20L110.92 354.26L112.00 355.31L113.08 356.35L114.16 357.39L115.25 358.43L116.34 359.46L117.44 360.48L118.53 361.50L119.63 362.52L120.74 363.52L121.85 364.53L122.96 365.53L124.07 366.52L125.19 367.51L126.32 368.50L127.45 369.47L128.58 370.45L129.71 371.42L130.85 372.38L132.00 373.34L133.15 374.29L134.30 375.24L135.46 376.18L136.62 377.11L137.79 378.04L138.96 378.97L140.14 379.89L141.32 380.80L142.51 381.71L143.70 382.62L144.90 383.52L146.10 384.41L147.31 385.30L148.52 386.18L149.74 387.06L150.96 387.93L152.19 388.79L153.43 389.65L154.67 390.50L155.91 391.35L157.16 392.19L158.42 393.02L159.68 393.85L160.95 394.67L162.22 395.49L163.49 396.29L164.77 397.09L166.06 397.89L167.35 398.67L168.64 399.45L169.94 400.22L171.24 400.98L172.55 401.74L173.86 402.49L175.18 403.23L176.50 403.96L177.82 404.68L179.15 405.39L180.48 406.10L181.82 406.80L183.16 407.48L184.51 408.16L185.85 408.83L187.21 409.50L188.56 410.15L189.92 410.79L191.29 411.42L192.65 412.05L194.02 412.66L195.40 413.27L196.77 413.86L198.15 414.45L199.54 415.03L200.92 415.59L202.31 416.15L203.71 416.71L205.10 417.25L206.50 417.78L207.90 418.31L209.31 418.83L210.72 419.34L212.13 419.84L213.54 420.33L214.96 420.82L216.37 421.30L217.79 421.77L219.22 422.24L220.64 422.70L222.07 423.15L223.50 423.59L224.93 424.03L226.37 424.46L227.80 424.88L229.24 425.30L230.68 425.71L232.12 426.11L233.57 426.51L235.01 426.90L236.46 427.29L237.91 427.67L239.36 428.05L240.81 428.42L242.27 428.78L243.72 429.14L245.18 429.50L246.64 429.85L248.10 430.19L249.56 430.53L251.02 430.87L252.48 431.20L253.94 431.52L255.41 431.85L256.87 432.16L258.34 432.48L259.81 432.79L261.28 433.10L262.74 433.40L264.21 433.70L265.68 433.99L267.15 434.29L268.62 434.58L270.09 434.86L271.57 435.15L273.04 435.43L274.51 435.70L275.98 435.98L277.45 436.25L278.93 436.52L280.40 436.79L281.87 437.05L283.35 437.31L284.82 437.57L286.29 437.83L287.77 438.08L289.24 438.33L290.72 438.58L292.19 438.82L293.67 439.06L295.15 439.30L296.62 439.54L298.10 439.78L299.58 440.01L301.05 440.24L302.53 440.46L304.01 440.69L305.49 440.91L306.97 441.13L308.44 441.35L309.92 441.56L311.40 441.78L312.88 441.99L314.36 442.19L315.84 442.40L317.32 442.60L318.80 442.80L320.28 443.00L321.76 443.20L323.24 443.39L324.73 443.59L326.21 443.78L327.69 443.97L329.17 444.15L330.65 444.34L332.14 444.52L333.62 444.70L335.10 444.87L336.59 445.05L338.07 445.22L339.55 445.40L341.04 445.57L342.52 445.73L344.01 445.90L345.49 446.06L346.98 446.23L348.46 446.39L349.95 446.54L351.43 446.70L352.92 446.86L354.41 447.01L355.89 447.16L357.38 447.31L358.87 447.46L360.35 447.60L361.84 447.75L363.33 447.89L364.82 448.03L366.31 448.17L367.79 448.31L369.28 448.45L370.77 448.58L372.26 448.72L373.75 448.85L375.24 448.98L376.73 449.11L378.22 449.24L379.71 449.36L381.20 449.49L382.69 449.61L384.18 449.73L385.67 449.85L387.16 449.97L388.65 450.09L390.14 450.21L391.64 450.32L393.13 450.44L394.62 450.55L396.11 450.66L397.60 450.77L399.10 450.88L400.59 450.99L402.08 451.10L403.57 451.21L405.07 451.31L406.56 451.42L408.05 451.52L409.55 451.62L411.04 451.72L412.54 451.82L414.03 451.92L415.52 452.02L417.02 452.12L418.51 452.22L420.01 452.31L421.50 452.41L423.00 452.50L424.49 452.59L425.99 452.69L427.49 452.78L428.98 452.87L430.48 452.96L431.97 453.05L433.47 453.14L434.97 453.23L436.46 453.31L437.96 453.40L439.46 453.49L440.95 453.57L442.45 453.66L443.95 453.74L445.44 453.83L446.94 453.91L448.44 454.00L449.94 454.08L451.44 454.16L452.93 454.24L454.43 454.32L455.93 454.41L457.43 454.49L458.93 454.57L460.43 454.65L461.92 454.73L463.42 454.81L464.92 454.89L466.42 454.97L467.92 455.04L469.42 455.12L470.92 455.20L472.42 455.28L473.92 455.36L475.42 455.44L476.92 455.52L478.42 455.59L479.92 455.67L481.42 455.75L482.92 455.83L484.42 455.91L485.92 455.98L487.42 456.06L488.92 456.14L490.42 456.22L491.92 456.30L493.42 456.38L494.92 456.46L496.42 456.53L497.93 456.61L499.43 456.69L500.93 456.77L502.43 456.85L503.93 456.93L505.43 457.01L506.93 457.09L508.44 457.17L509.94 457.26L511.44 457.34L512.94 457.42L514.44 457.50L515.95 457.58L517.45 457.66L518.95 457.74L520.45 457.83L521.95 457.91L523.46 457.99L524.96 458.07L526.46 458.16L527.96 458.24L529.47 458.32L530.97 458.41L532.47 458.49L533.97 458.57L535.48 458.66L536.98 458.74L538.48 458.83L539.98 458.91L541.49 459.00L542.99 459.08L544.49 459.17L546.00 459.25L547.50 459.33L549.00 459.42L550.51 459.51L552.01 459.59L553.51 459.68L555.01 459.76L556.52 459.85L558.02 459.93L559.52 460.02L561.03 460.10L562.53 460.19L564.03 460.28L565.54 460.36L567.04 460.45L568.54 460.54L570.05 460.62L571.55 460.71L573.05 460.80L574.56 460.88L576.06 460.97L577.56 461.06L579.07 461.14L580.57 461.23L582.07 461.32L583.58 461.40L585.08 461.49L586.58 461.58L588.09 461.66L589.59 461.75L591.09 461.84L592.60 461.93L594.10 462.01L595.60 462.10L597.11 462.19L598.61 462.28L600.11 462.36L601.62 462.45L603.12 462.54L604.62 462.62L606.13 462.71L607.63 462.80L609.13 462.89L610.63 462.97L612.14 463.06L613.64 463.15L615.14 463.24L616.65 463.32L618.15 463.41L619.65 463.50L621.15 463.59L622.66 463.67L624.16 463.76L625.66 463.85L627.16 463.93L628.67 464.02L630.17 464.11L631.67 464.19L633.17 464.28L634.68 464.37L636.18 464.46L637.68 464.54L639.18 464.63L640.68 464.72L642.19 464.80L643.69 464.89L645.19 464.97L646.69 465.06L648.19 465.15L649.70 465.23L651.20 465.32L652.70 465.41L654.20 465.49L655.70 465.58L657.20 465.66L658.70 465.75L660.20 465.83L661.71 465.92L663.21 466.00L664.71 466.09L666.21 466.17L667.71 466.26L669.21 466.34L670.71 466.43L672.21 466.51L673.71 466.60L675.21 466.68L676.71 466.76L678.21 466.85L679.71 466.93L681.21 467.02L682.71 467.10L684.21 467.18L685.71 467.26L687.21 467.35L688.71 467.43L690.21 467.51L691.71 467.60L693.20 467.68L694.70 467.76L696.20 467.84L697.70 467.92L699.20 468.00L700.70 468.09L702.20 468.17L703.69 468.25L705.19 468.33L706.69 468.41L708.19 468.49L709.68 468.57L711.18 468.65L712.68 468.73L714.18 468.81L715.67 468.89L717.17 468.97L718.67 469.04L720.16 469.12L721.66 469.20L723.16 469.28L724.65 469.36L726.15 469.43L727.64 469.51L729.14 469.59L730.64 469.66L732.13 469.74L733.63 469.82L735.12 469.89L736.62 469.97L738.11 470.04L739.60 470.12L741.10 470.19L742.59 470.27L744.09 470.34L745.58 470.42L747.08 470.49L748.57 470.56L750.06 470.64L751.56 470.71L753.05 470.78L754.54 470.85L756.03 470.93L757.53 471.00L759.02 471.07L760.51 471.14L762.00 471.21L763.49 471.28L764.99 471.35L766.48 471.42L767.97 471.49L769.46 471.56L770.95 471.63L772.44 471.69L773.93 471.76L775.42 471.83L776.91 471.90L778.40 471.96L779.89 472.03L781.38 472.10L782.87 472.16L784.36 472.23L785.85 472.29L787.34 472.36L788.82 472.42L790.31 472.49L791.80 472.55L793.29 472.61L794.78 472.67L796.26 472.74L797.75 472.80L799.24 472.86L800.72 472.92L802.21 472.98L803.70 473.04L805.18 473.10L806.67 473.16L808.15 473.22L809.64 473.28L811.12 473.34L812.61 473.40L814.09 473.45L815.58 473.51L817.06 473.57L818.54 473.62L820.03 473.68L821.51 473.73L822.77 473.78"/>
</g>
<rect x="754.30" y="268.40" width="49.80" height="17.60" fill="#fff"/><text transform="translate(779.20 283.12) scale(1 1)" font-size="17.20" fill="#0000ff" text-anchor="middle">0.05</text>
<rect x="754.30" y="304.80" width="49.80" height="17.60" fill="#fff"/><text transform="translate(779.20 319.52) scale(1 1)" font-size="17.20" fill="#0000ff" text-anchor="middle">0.04</text>
<rect x="754.30" y="351.50" width="49.80" height="17.60" fill="#fff"/><text transform="translate(779.20 366.22) scale(1 1)" font-size="17.20" fill="#0000ff" text-anchor="middle">0.03</text>
<rect x="754.30" y="391.80" width="49.80" height="17.60" fill="#fff"/><text transform="translate(779.20 406.52) scale(1 1)" font-size="17.20" fill="#0000ff" text-anchor="middle">0.02</text>
<rect x="754.50" y="462.80" width="49.80" height="17.60" fill="#fff"/><text transform="translate(779.40 477.52) scale(1 1)" font-size="17.20" fill="#0000ff" text-anchor="middle">0.014</text>
<path d="M171.99 278.74H233.65M202.82 244.57V312.92M171.99 274.34v8.80M233.65 274.34v8.80M198.42 244.57h8.80M198.42 312.92h8.80" stroke="#000" stroke-width="1.70" fill="none"/>
<circle cx="202.82" cy="278.74" r="5.5" fill="#000"/>
<text transform="translate(202.82 554.80) scale(0.950 1)" font-size="22.30" text-anchor="middle" fill="#000">5</text>
<text transform="translate(356.96 554.80) scale(0.950 1)" font-size="22.30" text-anchor="middle" fill="#000">10</text>
<text transform="translate(511.11 554.80) scale(0.950 1)" font-size="22.30" text-anchor="middle" fill="#000">15</text>
<text transform="translate(665.25 554.80) scale(0.950 1)" font-size="22.30" text-anchor="middle" fill="#000">20</text>
<text transform="translate(818.80 554.80) scale(0.950 1)" font-size="22.30" text-anchor="middle" fill="#000">25</text>
<text transform="translate(74.00 14.80) scale(0.950 1)" font-size="22.30" text-anchor="end" fill="#000"><tspan dy="1.1">−</tspan><tspan dy="-1.1">1.5</tspan></text>
<text transform="translate(74.00 141.85) scale(0.950 1)" font-size="22.30" text-anchor="end" fill="#000"><tspan dy="1.1">−</tspan><tspan dy="-1.1">2.0</tspan></text>
<text transform="translate(74.00 273.30) scale(0.950 1)" font-size="22.30" text-anchor="end" fill="#000"><tspan dy="1.1">−</tspan><tspan dy="-1.1">2.5</tspan></text>
<text transform="translate(74.00 404.75) scale(0.950 1)" font-size="22.30" text-anchor="end" fill="#000"><tspan dy="1.1">−</tspan><tspan dy="-1.1">3.0</tspan></text>
<text transform="translate(74.00 528.60) scale(0.950 1)" font-size="22.30" text-anchor="end" fill="#000"><tspan dy="1.1">−</tspan><tspan dy="-1.1">3.5</tspan></text>
<text transform="translate(449.20 577.30) scale(0.937 1)" font-size="22.30" text-anchor="middle" fill="#000">Age (Myr)</text>
<text transform="translate(15.9 265.6) rotate(-90) scale(0.95 1)" font-size="22.30" text-anchor="middle">log(L<tspan font-size="13.80" dy="5.4">Bol</tspan><tspan dy="-5.4">/L</tspan><tspan font-size="13.80" dy="5.4">Sun</tspan><tspan dy="-5.4">)</tspan></text>
<rect x="345.50" y="552.70" width="5.08" height="2.70" fill="#fff"/>
<rect x="352.44" y="552.70" width="4.06" height="2.70" fill="#fff"/>
<rect x="499.50" y="552.70" width="5.08" height="2.70" fill="#fff"/>
<rect x="506.44" y="552.70" width="4.06" height="2.70" fill="#fff"/>
<rect x="45.50" y="12.70" width="4.32" height="2.70" fill="#fff"/>
<rect x="51.68" y="12.70" width="4.82" height="2.70" fill="#fff"/>
<rect x="782.50" y="475.60" width="3.59" height="2.80" fill="#fff"/>
<rect x="787.58" y="475.60" width="3.92" height="2.80" fill="#fff"/>
</svg></body></html>
